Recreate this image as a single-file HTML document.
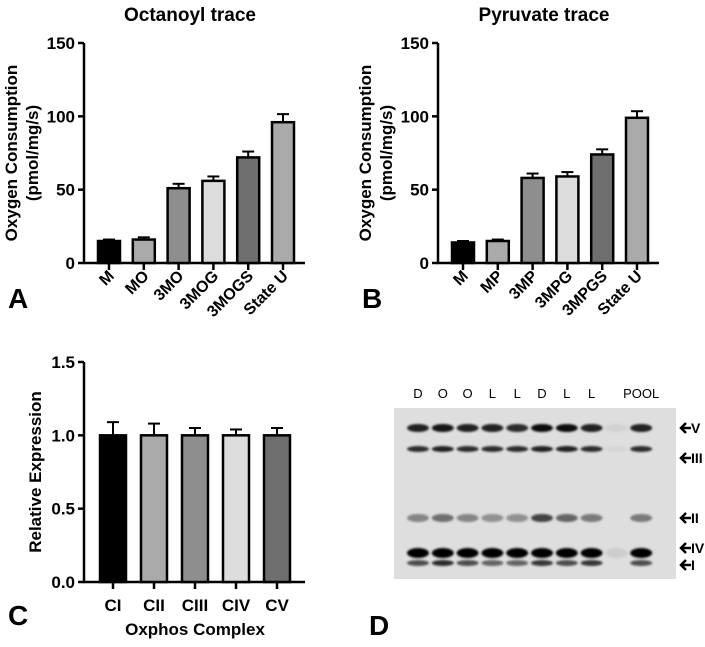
<!DOCTYPE html>
<html><head><meta charset="utf-8"><style>
body{margin:0;background:#fff;width:705px;height:642px;overflow:hidden}
svg{font-family:"Liberation Sans",Arial,sans-serif}
</style></head><body>
<svg id="fig" width="705" height="642">
<defs>
<filter id="blur" x="-20%" y="-100%" width="140%" height="300%"><feGaussianBlur stdDeviation="1.1"/></filter>
</defs>
</svg>
<script>
const catsA=["M","MO","3MO","3MOG","3MOGS","State U"];
const valsA=[15,16,51,56,72,96];
const errA=[1,1.5,3,3,4,5.5];
const catsB=["M","MP","3MP","3MPG","3MPGS","State U"];
const valsB=[14,15,58,59,74,99];
const errB=[1,1,3,3,3.5,4.5];
const ticksAB=[0,50,100,150];
const catsC=["CI","CII","CIII","CIV","CV"];
const valsC=[1,1,1,1,1];
const errC=[0.09,0.08,0.05,0.04,0.05];
const ticksC=["0.0","0.5","1.0","1.5"];
const fillsAB=["#000","#aaa","#8e8e8e","#dcdcdc","#6e6e6e","#aaa"];
const fillsC=["#000","#aaa","#8e8e8e","#dcdcdc","#6e6e6e"];
const lanes=["D","O","O","L","L","D","L","L","","POOL"];
const bandNames=["V","III","II","IV","I"];
const bandIntensity=[
 [0.85,0.9,0.85,0.85,0.8,0.95,0.95,0.85,0.06,0.85],
 [0.8,0.85,0.8,0.8,0.8,0.85,0.85,0.8,0.04,0.8],
 [0.4,0.5,0.4,0.35,0.35,0.7,0.55,0.45,0,0.45],
 [1,1,1,1,1,1,1,1,0.08,1],
 [0.65,0.8,0.65,0.55,0.55,0.75,0.65,0.75,0,0.65]];
const NS="http://www.w3.org/2000/svg";
const svg=document.getElementById('fig');
function mk(tag,attrs,parent,text){const e=document.createElementNS(NS,tag);for(const k in attrs)e.setAttribute(k,attrs[k]);if(text!==undefined)e.textContent=text;(parent||svg).appendChild(e);return e;}

function barChart(o){
 const g=mk('g',{});
 
 
 const y=v=>o.y0-(v-o.min)/(o.max-o.min)*(o.y0-o.y1);
 const ax=mk('path',{d:`M${o.x0} ${o.y1} V${o.y0} H${o.xEnd}`,stroke:'#000','stroke-width':2.5,fill:'none'},g);
 
 o.ticks.forEach((t,i)=>{const yy=y(o.tickVals[i]);
  mk('line',{x1:o.x0-6,x2:o.x0,y1:yy,y2:yy,stroke:'#000','stroke-width':2.5},g);
  const tl=mk('text',{x:o.x0-9,y:yy+6,'text-anchor':'end','font-size':17,'font-weight':'bold'},g,t);
  
 });
 o.cats.forEach((c,i)=>{const cx=o.cx0+i*o.step;const top=y(o.vals[i]);const et=y(o.vals[i]+o.errs[i]);
  mk('line',{x1:cx,x2:cx,y1:et,y2:top,stroke:'#000','stroke-width':2},g);
  mk('line',{x1:cx-6,x2:cx+6,y1:et,y2:et,stroke:'#000','stroke-width':2},g);
  const b=mk('rect',{x:cx-o.bw/2,y:top,width:o.bw,height:o.y0-top,fill:o.fills[i],stroke:'#000','stroke-width':2.5},g);
  
  mk('line',{x1:cx,x2:cx,y1:o.y0,y2:o.y0+7,stroke:'#000','stroke-width':2.5},g);
  let lbl;
  if(o.rot){lbl=mk('text',{x:cx+6,y:o.y0+14,'text-anchor':'end','font-size':16,'font-weight':'bold',transform:`rotate(-45 ${cx+6} ${o.y0+14})`},g,c);}
  else{lbl=mk('text',{x:cx,y:o.y0+29,'text-anchor':'middle','font-size':17,'font-weight':'bold'},g,c);}
  
 });
 return g;
}
function txt(x,y,s,size,name,extra){const t=mk('text',Object.assign({x:x,y:y,'font-size':size,'font-weight':'bold'},extra||{}),svg,s);return t;}

barChart({name:'chart-a',x0:84,xEnd:305,y0:263,y1:43,min:0,max:150,ticks:ticksAB.map(String),tickVals:ticksAB,cats:catsA,vals:valsA,errs:errA,fills:fillsAB,cx0:109,step:34.8,bw:22,rot:true});
barChart({name:'chart-b',x0:438,xEnd:659,y0:263,y1:43,min:0,max:150,ticks:ticksAB.map(String),tickVals:ticksAB,cats:catsB,vals:valsB,errs:errB,fills:fillsAB,cx0:463,step:34.8,bw:22,rot:true});
barChart({name:'chart-c',x0:84,xEnd:305,y0:582,y1:362,min:0,max:1.5,ticks:ticksC,tickVals:[0,0.5,1,1.5],cats:catsC,vals:valsC,errs:errC,fills:fillsC,cx0:113,step:41,bw:26,rot:false});

txt(190,21,'Octanoyl trace',19,'chart-a-title',{'text-anchor':'middle'});
txt(544,21,'Pyruvate trace',19,'chart-b-title',{'text-anchor':'middle'});
txt(0,0,'Oxygen Consumption',17,'chart-a-y-title',{'text-anchor':'middle',transform:'translate(17,153) rotate(-90)'});
txt(0,0,'(pmol/mg/s)',17,'chart-a-y-title-unit',{'text-anchor':'middle',transform:'translate(38,153) rotate(-90)'});
txt(0,0,'Oxygen Consumption',17,'chart-b-y-title',{'text-anchor':'middle',transform:'translate(371,153) rotate(-90)'});
txt(0,0,'(pmol/mg/s)',17,'chart-b-y-title-unit',{'text-anchor':'middle',transform:'translate(392,153) rotate(-90)'});
txt(0,0,'Relative Expression',17,'chart-c-y-title',{'text-anchor':'middle',transform:'translate(41,472) rotate(-90)'});
txt(195,635,'Oxphos Complex',17,'chart-c-x-title',{'text-anchor':'middle'});
txt(8,308,'A',28,'panel-label-a');
txt(362,308,'B',28,'panel-label-b');
txt(8,625,'C',28,'panel-label-c');
txt(369,635,'D',28,'panel-label-d');

// gel
const gel=mk('g',{});
mk('rect',{x:394,y:408,width:282,height:171,fill:'#dedede'},gel);
const laneX=i=>418+i*24.8;
const bandY=[428,449,518,553,563];
const bandH=[4,3,4,5,3];
lanes.forEach((l,i)=>{const x=laneX(i);
 if(l){const t=mk('text',{x:x,y:398,'text-anchor':'middle','font-size':13},gel,l);}
 bandY.forEach((by,j)=>{const a=bandIntensity[j][i];if(a<=0)return;
  const e=mk('ellipse',{cx:x,cy:by,rx:11,ry:bandH[j],fill:'#000','fill-opacity':a,filter:'url(#blur)'},gel);
  });
});
bandNames.forEach((n,j)=>{const ly=[428,458,518,548,565][j];
 const ar=mk('path',{d:`M681 ${ly} h10 M686 ${ly-5} L681 ${ly} L686 ${ly+5}`,stroke:'#000','stroke-width':2.5,fill:'none'},gel);
 
 const t=mk('text',{x:691,y:ly+5,'font-size':14,'font-weight':'bold'},gel,n);
 });
</script>
</body></html>
